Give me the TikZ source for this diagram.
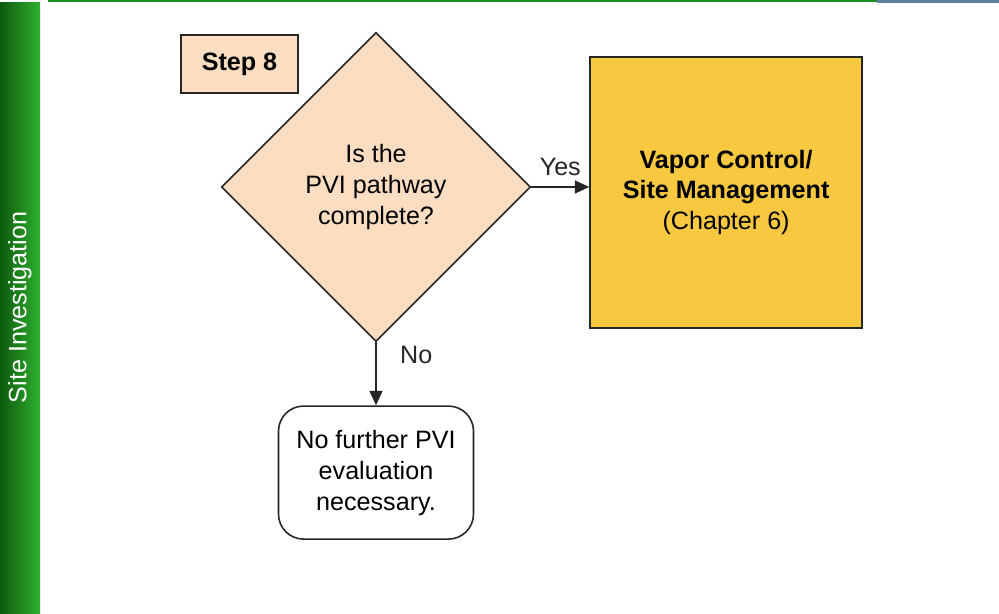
\documentclass[tikz,border=0pt]{standalone}
\usepackage{xcolor}
\usepackage{fontspec}
\setmainfont{Liberation Sans}
\usepackage{tikz}
\usetikzlibrary{positioning, arrows.meta, shapes.geometric, calc}
\definecolor{peach}{HTML}{FBDDC2}
\definecolor{gold}{HTML}{F8C840}
\definecolor{bardark}{HTML}{0E5A0E}
\definecolor{barlight}{HTML}{2FB02F}
\definecolor{barline}{HTML}{1E8C1E}
\definecolor{slate}{HTML}{5B7F99}

\begin{document}
\begin{tikzpicture}[
  every node/.style={font=\fontsize{14.3}{17.6}\selectfont},
  stepbox/.style={
    draw=black!85, fill=peach, line width=0.9pt,
    minimum width=2.34cm, minimum height=1.16cm, font=\fontsize{14.3}{17.6}\selectfont\bfseries
  },
  decision/.style={
    diamond, draw=black!85, fill=peach, line width=0.9pt, aspect=1,
    inner sep=0pt, minimum width=6.18cm, minimum height=6.18cm, align=center
  },
  action/.style={
    draw=black!85, fill=gold, line width=0.9pt,
    minimum width=5.44cm, minimum height=5.42cm, align=center
  },
  terminal/.style={
    draw=black!85, fill=white, rounded corners=0.5cm, line width=0.9pt,
    minimum width=3.9cm, minimum height=2.66cm, align=center
  },
  arrow/.style={-{Triangle[length=2.9mm, width=2.6mm]}, black!85, line width=0.9pt}
]
  \useasboundingbox (0,0) rectangle (19.98,-12.28);

  % side bar and top rule
  \shade[left color=bardark, right color=barlight] (0,-0.06) rectangle (0.8,-12.28);
  \node[rotate=90, text=white] (side) at (0.4,-6.15) {Site Investigation};
  \draw[barline, line width=0.05cm] (0.96,-0.02) -- (17.54,-0.02);
  \draw[slate, line width=0.06cm] (17.54,-0.03) -- (19.98,-0.03);

  % flow
  \node[decision] (path) at (7.52,-3.74) {Is the\\PVI pathway\\complete?};
  \node[stepbox] (step) at (4.79,-1.28) {Step 8};
  \node[action, right=1.16cm of path, yshift=-0.11cm] (vapor)
    {\textbf{Vapor Control/}\\\textbf{Site Management}\\(Chapter 6)};
  \node[terminal, below=1.26cm of path] (nofurther)
    {No further PVI\\evaluation\\necessary.};

  \draw[arrow] (path.east) -- (path.east -| vapor.west)
    node[midway, above=0.1cm] (yes) {Yes};
  \draw[arrow] (path.south) -- (nofurther.north)
    node[pos=0.2, right=0.35cm] (no) {No};
\end{tikzpicture}
\end{document}
